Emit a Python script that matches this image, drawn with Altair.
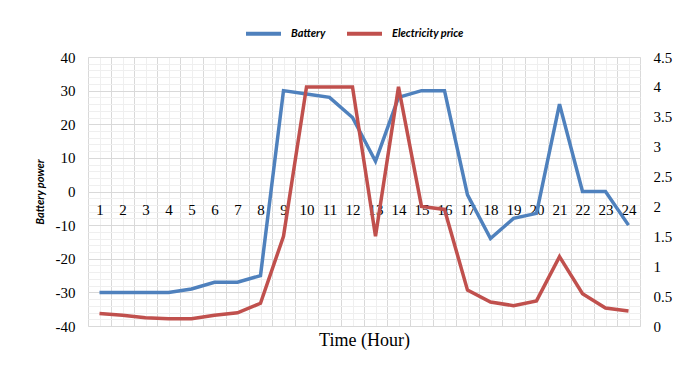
import altair as alt
import pandas as pd

hours = list(range(1, 25))
battery = [-30, -30, -30, -30, -29, -27, -27, -25, 30, 29, 28, 22, 9, 28, 30, 30,
           -1, -14, -8, -6.5, 26, 0, 0, -10]
price = [0.21, 0.18, 0.14, 0.12, 0.12, 0.18, 0.22, 0.38, 1.5, 4, 4, 4, 1.5, 4, 2, 1.95,
         0.6, 0.4, 0.34, 0.42, 1.16, 0.54, 0.3, 0.25]
series_names = ["Battery", "Electricity price"]
series_colors = ["#4F81BD", "#C0504D"]
left_ticks = list(range(-40, 41, 10))
left_minor = list(range(-40, 41, 2))
right_ticks = [i * 0.5 for i in range(10)]
band_edges = [h - 0.5 for h in range(1, 26)]

df = pd.DataFrame({"hour": hours, "battery": battery, "price": price})

SERIF = "Liberation Serif"
SANS = "Lato"
MAJOR = "#d9d9d9"
MINOR = "#efefef"

xs = alt.Scale(domain=[0.5, 24.5], nice=False, zero=False)
ys = alt.Scale(domain=[-40, 40], nice=False, zero=False)
yr = alt.Scale(domain=[0, 4.5], nice=False, zero=False)
cs = alt.Scale(domain=series_names, range=series_colors)

leg = alt.Legend(orient="none", legendX=156, legendY=-43, direction="horizontal",
                 title=None, symbolType="stroke", symbolSize=1225, symbolStrokeWidth=4,
                 labelFont=SANS, labelFontStyle="italic", labelFontWeight="bold",
                 labelFontSize=11, labelColor="#000", labelOffset=8, columnPadding=13)

base = alt.Chart(df)

# minor grid (hour centres, every 2 units)
grid_minor = base.mark_line(opacity=0).encode(
    x=alt.X("hour:Q", scale=xs, axis=alt.Axis(orient="bottom", values=hours, grid=True,
            gridColor=MINOR, labels=False, ticks=False, domain=False, title="Time (Hour)",
            titleFont=SERIF, titleFontSize=18, titleFontWeight="normal",
            titleColor="#000", titlePadding=5)),
    y=alt.Y("battery:Q", scale=ys, axis=alt.Axis(orient="left", values=left_minor, grid=True,
            gridColor=MINOR, labels=False, ticks=False, domain=False, title=None)),
)

# major vertical grid at band edges
grid_major = base.mark_line(opacity=0).encode(
    x=alt.X("hour:Q", scale=xs, axis=alt.Axis(orient="top", values=band_edges, grid=True,
            gridColor=MAJOR, labels=False, ticks=False, domain=False, title=None)),
    y=alt.Y("battery:Q", scale=ys, axis=None),
)

line_b = base.transform_calculate(series="'Battery'").mark_line(strokeWidth=3.5).encode(
    x=alt.X("hour:Q", scale=xs, axis=alt.Axis(orient="bottom", values=hours, format="d",
            grid=False, ticks=False, domain=False, offset=-134.5, labelPadding=11,
            labelFlush=False, title=None,
            labelFont=SERIF, labelFontSize=15, labelColor="#000")),
    y=alt.Y("battery:Q", scale=ys, axis=alt.Axis(orient="left", values=left_ticks, grid=True,
            gridColor=MAJOR, ticks=False, domain=False, labelPadding=13,
            labelExpr="'' + datum.value",
            labelFont=SERIF, labelFontSize=15, labelColor="#000",
            title="Battery power", titleFont=SANS, titleFontStyle="italic",
            titleFontWeight="bold", titleFontSize=11, titleColor="#000", titlePadding=10)),
    color=alt.Color("series:N", scale=cs, legend=leg),
)

line_p = base.transform_calculate(series="'Electricity price'").mark_line(strokeWidth=3.5).encode(
    x=alt.X("hour:Q", scale=xs, axis=None),
    y=alt.Y("price:Q", scale=yr, axis=alt.Axis(orient="right", values=right_ticks,
            labelExpr="'' + datum.value",
            grid=False, ticks=False, domain=False, labelPadding=13,
            labelFont=SERIF, labelFontSize=15, labelColor="#000", title=None)),
    color=alt.Color("series:N", scale=cs, legend=leg),
)

chart = alt.layer(grid_minor, grid_major, line_b, line_p).resolve_scale(
    y="independent"
).resolve_axis(
    x="independent", y="independent"
).properties(
    width=552, height=269, autosize="none",
    padding={"left": 80, "top": 49, "right": 36, "bottom": 38},
    background="white",
).configure_view(stroke=MAJOR)

chart.save("out.html", embed_options={"renderer": "svg", "actions": False})
